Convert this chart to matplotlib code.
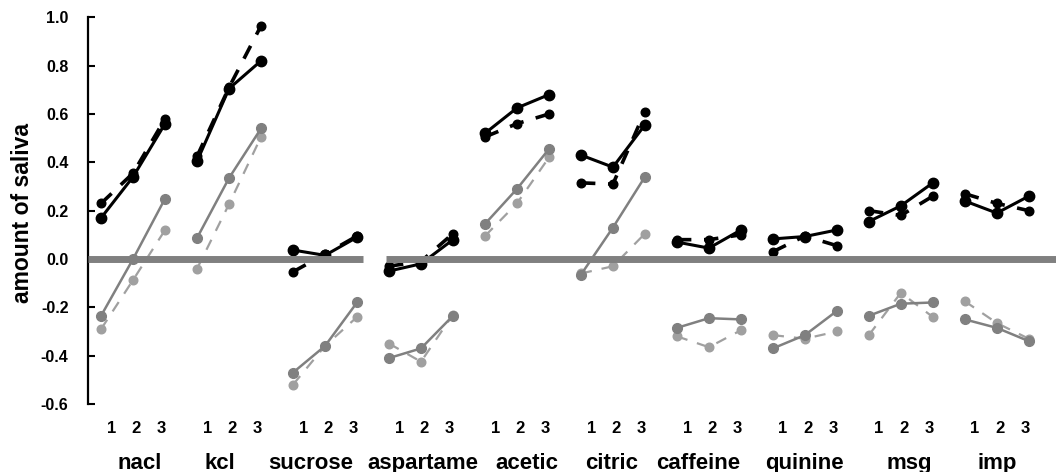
import matplotlib
matplotlib.use("Agg")
import matplotlib.pyplot as plt
import numpy as np

# ------------------------------------------------------
# Data
# ------------------------------------------------------
GROUPS = ["nacl", "kcl", "sucrose", "aspartame", "acetic",
          "citric", "caffeine", "quinine", "msg", "imp"]
LEVELS = ["1", "2", "3"]

# black, solid line
BLACK_SOLID = [
    [0.17, 0.34, 0.56],
    [0.405, 0.705, 0.82],
    [0.037, 0.015, 0.09],
    [-0.05, -0.02, 0.08],
    [0.52, 0.625, 0.68],
    [0.43, 0.38, 0.555],
    [0.07, 0.045, 0.12],
    [0.083, 0.093, 0.12],
    [0.155, 0.22, 0.315],
    [0.24, 0.19, 0.26],
]
# black, dashed line
BLACK_DASH = [
    [0.23, 0.355, 0.58],
    [0.425, 0.71, 0.965],
    [-0.053, 0.02, 0.095],
    [-0.03, -0.01, 0.105],
    [0.505, 0.56, 0.60],
    [0.315, 0.31, 0.61],
    [0.08, 0.08, 0.10],
    [0.03, 0.095, 0.055],
    [0.20, 0.18, 0.26],
    [0.27, 0.23, 0.20],
]
# grey, solid line
GREY_SOLID = [
    [-0.235, 0.0, 0.25],
    [0.087, 0.335, 0.54],
    [-0.47, -0.36, -0.18],
    [-0.41, -0.37, -0.235],
    [0.145, 0.29, 0.455],
    [-0.065, 0.13, 0.34],
    [-0.285, -0.245, -0.25],
    [-0.37, -0.315, -0.215],
    [-0.235, -0.185, -0.18],
    [-0.25, -0.285, -0.34],
]
# light grey, dashed line
GREY_DASH = [
    [-0.29, -0.087, 0.12],
    [-0.04, 0.227, 0.505],
    [-0.52, -0.36, -0.24],
    [-0.35, -0.425, -0.23],
    [0.095, 0.23, 0.42],
    [-0.06, -0.03, 0.105],
    [-0.32, -0.365, -0.295],
    [-0.315, -0.33, -0.30],
    [-0.315, -0.14, -0.24],
    [-0.175, -0.265, -0.33],
]

# ------------------------------------------------------
# Style / layout
# ------------------------------------------------------
FONT = "Liberation Sans"
GREY = "#808080"
LIGHT_GREY = "#a0a0a0"
NAME_SHIFT = [0.2, -0.3, -0.45, 0.05, 0.3, -0.05, -0.35, 0.0, 0.25, 0.0]
LEVEL_STEP = 0.78       # spacing of the "1 2 3" labels (in point units)
ZERO_GAP = (8.2, 8.9)   # break in the zero line between sucrose and aspartame
XLIM = (-0.41, 29.85)

plt.rcParams["font.family"] = [FONT, "DejaVu Sans"]
plt.rcParams["font.weight"] = "bold"
plt.rcParams["axes.unicode_minus"] = False

fig = plt.figure(figsize=(10.56, 4.72), dpi=100)
ax = fig.add_axes([0.0833, 0.1441, 0.9167, 0.8192])

series = [
    (BLACK_SOLID, dict(color="black", lw=2.2, ls="-", ms=7.5, zorder=4)),
    (BLACK_DASH, dict(color="black", lw=2.6, ls=(0, (4, 3.5)), ms=6.2, zorder=3)),
    (GREY_SOLID, dict(color=GREY, lw=1.8, ls="-", ms=7.0, zorder=2)),
    (GREY_DASH, dict(color=LIGHT_GREY, lw=1.6, ls=(0, (5, 4.5)), ms=6.2, zorder=1)),
]

for i in range(len(GROUPS)):
    xs = 3 * i + np.arange(3)
    for values, st in series:
        ax.plot(xs, values[i], color=st["color"], lw=st["lw"], ls=st["ls"],
                marker="o", ms=st["ms"], mec=st["color"], mfc=st["color"],
                zorder=st["zorder"], clip_on=False)

# thick grey zero line (with its small break)
ax.hlines(0, XLIM[0], ZERO_GAP[0], colors=GREY, lw=5, zorder=5)
ax.hlines(0, ZERO_GAP[1], XLIM[1], colors=GREY, lw=5, zorder=5)

ax.set_xlim(*XLIM)
ax.set_ylim(-0.6, 1.0)

# y axis
yt = np.arange(-0.6, 1.01, 0.2)
ax.set_yticks(yt)
ax.set_yticklabels([f"{v:.1f}" for v in yt], fontsize=11.5, fontweight="bold")
ax.tick_params(axis="y", direction="in", length=5, width=1.5, pad=14)
ax.set_ylabel("amount of saliva", fontsize=16.5, fontweight="bold")
ax.yaxis.set_label_coords(-0.056, 0.495)

# x axis: "1 2 3" under each group, no axis line
xt, xl = [], []
for i in range(len(GROUPS)):
    c = 3 * i + 1 + 0.1
    for j, lab in enumerate(LEVELS):
        xt.append(c + (j - 1) * LEVEL_STEP)
        xl.append(lab)
ax.set_xticks(xt)
ax.set_xticklabels(xl, fontsize=12, fontweight="bold")
ax.tick_params(axis="x", length=0, pad=12)

for i, name in enumerate(GROUPS):
    ax.text(3 * i + 1 + NAME_SHIFT[i], -0.168, name, transform=ax.get_xaxis_transform(),
            ha="center", va="baseline", fontsize=16, fontweight="bold")

for s in ["top", "right", "bottom"]:
    ax.spines[s].set_visible(False)
ax.spines["left"].set_linewidth(1.6)

fig.savefig("out.png", dpi=100)
